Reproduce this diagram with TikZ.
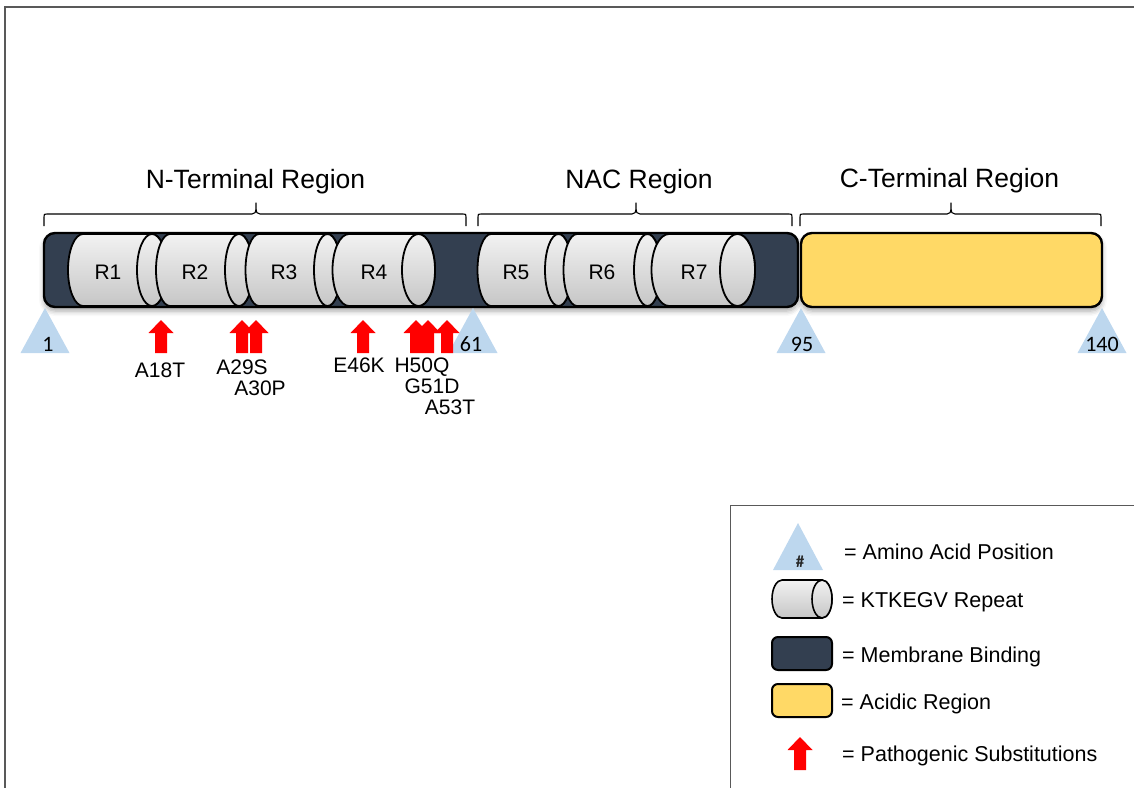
\documentclass[tikz,border=0pt]{standalone}
\usepackage{fontspec}
\setmainfont{Liberation Sans}
\newfontfamily\numfont{Carlito}
\usetikzlibrary{positioning,shadows.blur}
\definecolor{membrane}{RGB}{51,63,80}
\definecolor{acidic}{RGB}{255,217,102}
\definecolor{aapos}{RGB}{189,215,238}
\definecolor{cyltop}{RGB}{242,242,242}
\definecolor{cylbot}{RGB}{198,198,198}
\definecolor{framegray}{RGB}{89,89,89}

% one KTKEGV repeat: name, left centre, right centre, x radius, label
\newcommand{\repeatcyl}[5]{%
  \path[cylbody] (#2,234) arc[start angle=270,end angle=90,x radius=#4,y radius=36]
    -- (#3,306) arc[start angle=90,end angle=-90,x radius=#4,y radius=36] -- cycle;
  \draw[cylend] (#3,270) ellipse[x radius=#4,y radius=36];
  \node[replabel] (#1) at ({#2+25},279) {#5};
}
% red block arrow: centre x, top y
\newcommand{\subarrow}[2]{%
  \fill[subst] (#1-6,#2+33) -- (#1-6,#2+13) -- (#1-12.5,#2+13) -- (#1,#2)
    -- (#1+12.5,#2+13) -- (#1+6,#2+13) -- (#1+6,#2+33) -- cycle;
}
% brace over a region: left x, tip x, right x
\newcommand{\regionbrace}[3]{%
  \draw[regbrace] (#1,226) -- (#1,217) .. controls (#1,214) .. (#1+3,214) -- (#2-4,214)
    .. controls (#2-1,214) and (#2,212) .. (#2,209) -- (#2,203) -- (#2,209)
    .. controls (#2,212) and (#2+1,214) .. (#2+4,214) -- (#3-3,214)
    .. controls (#3,214) .. (#3,217) -- (#3,226);
}

\begin{document}
\begin{tikzpicture}[x=1pt,y=-1pt,
    every node/.style={inner sep=0pt},
    regiontitle/.style={font=\fontsize{26.5}{30}\selectfont,anchor=base},
    replabel/.style={font=\fontsize{21}{24}\selectfont,anchor=base},
    mutlabel/.style={font=\fontsize{21}{24}\selectfont,anchor=base},
    poslabel/.style={font=\numfont\fontsize{22}{24}\selectfont,anchor=base},
    legtext/.style={font=\fontsize{21.5}{24}\selectfont,anchor=base west},
    bar/.style={draw=black,line width=2.4pt,rounded corners=11pt,minimum height=74pt},
    cylbody/.style={draw=black,line width=1.8pt,top color=cyltop,bottom color=cylbot},
    cylend/.style={draw=black,line width=1.8pt,top color=cyltop,bottom color=cylbot},
    posmark/.style={fill=aapos},
    subst/.style={fill=red},
    regbrace/.style={draw=black,line width=1.1pt,line join=round},
    framed/.style={draw=framegray,line width=2pt}]
  \useasboundingbox (0,0) rectangle (1134,787);

  % outer frame and legend frame
  \draw[framed] (1140,7) -- (5,7) -- (5,795);
  \draw[framed,line width=1.6pt] (1140,505.5) -- (730.5,505.5) -- (730.5,795);

  % region braces and titles
  \regionbrace{44}{256}{466}
  \regionbrace{478}{636}{792}
  \regionbrace{800}{951}{1101}
  \node[regiontitle] (nterm) at (255.5,188) {N-Terminal Region};
  \node[regiontitle] (nac) at (639,188) {NAC Region};
  \node[regiontitle] (cterm) at (949.5,187) {C-Terminal Region};

  % protein bars
  \node[bar,fill=membrane,minimum width=754pt,
    blur shadow={shadow xshift=0pt,shadow yshift=-4pt,shadow blur radius=5pt,shadow opacity=35}]
    (membar) at (421,270) {};
  \node[bar,fill=acidic,minimum width=301pt,
    blur shadow={shadow xshift=0pt,shadow yshift=-4pt,shadow blur radius=5pt,shadow opacity=35}]
    (acidbar) at (951.5,270) {};

  % repeats R1 -- R7
  \foreach \n/\l/\r/\rx in {1/83/152/15, 2/170/239/14, 3/259/327.5/13.5, 4/349/418.5/16.5,
      5/491/558.5/13.5, 6/577/647.5/13.5, 7/669/737.5/17.5}
    \repeatcyl{rep\n}{\l}{\r}{\rx}{R\n};

  % amino acid positions
  \foreach \x/\lx/\p in {45/48/1, 473/471/61, 801/802/95, 1102/1102/140} {
    \fill[posmark] (\x,308) -- (\x+24.5,353) -- (\x-24.5,353) -- cycle;
    \node[poslabel] (pos\p) at (\lx,351) {\p};
  }

  % pathogenic substitutions
  \foreach \x in {161,242,256,363,416,428,447}
    \subarrow{\x}{320};
  \foreach \x/\y/\m in {160/377/A18T, 242/374/A29S, 260/395/A30P, 359/372/E46K,
      422/372/H50Q, 432/393/G51D, 450/414/A53T}
    \node[mutlabel] (mut\m) at (\x,\y) {\m};

  % legend
  \fill[posmark] (798,523) -- (823,570) -- (773,570) -- cycle;
  \node[font=\numfont\bfseries\fontsize{17}{19}\selectfont,text=black!85,anchor=base]
    (leghash) at (800,567) {\#};
  \path[cylbody,line width=1.6pt] (782,580) arc[start angle=270,end angle=90,x radius=10,y radius=19]
    -- (822,618) arc[start angle=90,end angle=-90,x radius=10,y radius=19] -- cycle;
  \draw[cylend,line width=1.6pt] (822,599) ellipse[x radius=10,y radius=19];
  \node[bar,fill=membrane,minimum width=60pt,minimum height=33pt,rounded corners=6pt,line width=2pt]
    (legmem) at (802,653.5) {};
  \node[bar,fill=acidic,minimum width=60pt,minimum height=33pt,rounded corners=6pt,line width=2pt]
    (legacid) at (802,700.5) {};
  \subarrow{800}{737}
  \node[legtext] (legpos) at (844,559) {= Amino Acid Position};
  \node[legtext] (legrep) at (842,607) {= KTKEGV Repeat};
  \node[legtext] (legmemtext) at (842,662) {= Membrane Binding};
  \node[legtext] (legacidtext) at (841,709) {= Acidic Region};
  \node[legtext] (legsubst) at (842,761) {= Pathogenic Substitutions};
\end{tikzpicture}
\end{document}
